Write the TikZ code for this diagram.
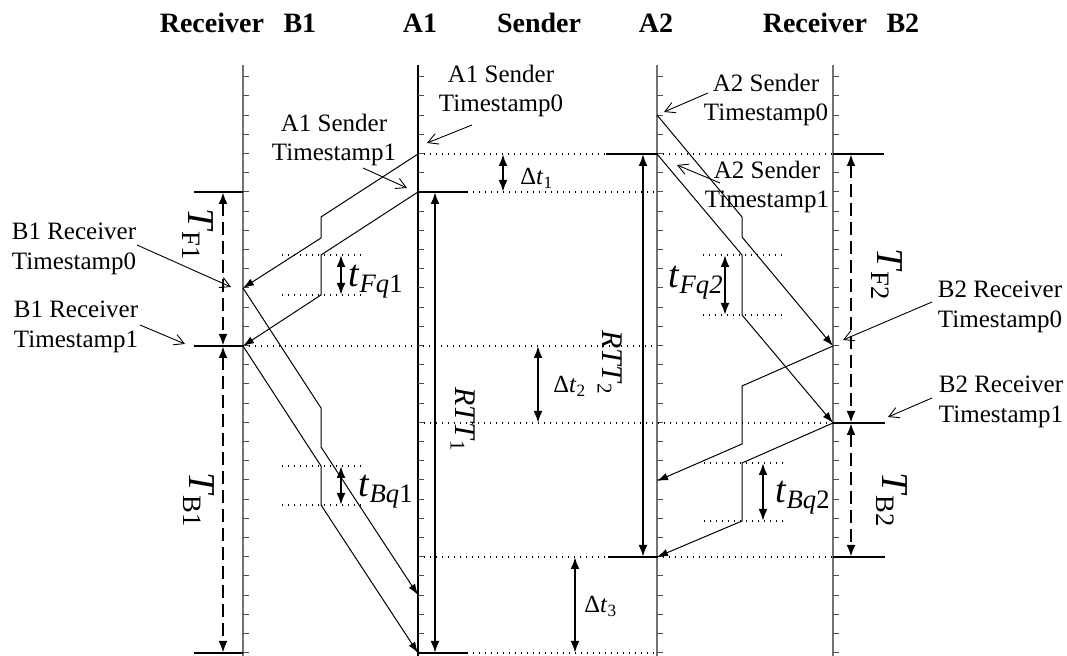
\documentclass[tikz,border=0pt]{standalone}
\usepackage{fontspec}
\setmainfont{Liberation Serif}
\usetikzlibrary{arrows.meta}
\definecolor{axgray}{gray}{0.45}
\definecolor{tickgray}{gray}{0.3}
\begin{document}
\begin{tikzpicture}[x=0.5pt,y=-0.5pt,
  axis/.style={line width=0.6pt},
  tickmark/.style={line width=0.5pt,draw=tickgray},
  msg/.style={line width=0.5pt,-{Latex[length=5.5pt,width=3.8pt]}},
  ptr/.style={line width=0.45pt,-{Straight Barb[length=5pt,width=5.5pt]}},
  dimarr/.style={line width=1.1pt,{Latex[length=6pt,width=4.5pt]}-{Latex[length=6pt,width=4.5pt]}},
  dasharr/.style={dimarr,line width=1.25pt,dash pattern=on 6.5pt off 3pt},
  dots/.style={line width=0.6pt,dash pattern=on 0.6pt off 2.4pt},
  hline/.style={line width=0.55pt},
  lbl/.style={font=\fontsize{12.5}{14.7}\selectfont,align=center,inner sep=0pt},
  head/.style={font=\fontsize{14}{16}\selectfont\bfseries,inner sep=0pt,anchor=base},
  big/.style={font=\fontsize{19}{22}\selectfont,inner sep=0pt},
  mid/.style={font=\fontsize{15}{18}\selectfont,inner sep=0pt},
  small/.style={font=\fontsize{12.3}{14.5}\selectfont,inner sep=0pt},
]
\useasboundingbox (0,0) rectangle (1067,656);

% axis x positions
\coordinate (xB1) at (243,0);
\coordinate (xA1) at (418,0);
\coordinate (xA2) at (657,0);
\coordinate (xB2) at (833,0);

% headings
\node[head] (hB1) at (238,33) {Receiver\hspace{0.7em}B1};
\node[head] (hA1) at (420,33) {A1};
\node[head] (hS)  at (539,33) {Sender};
\node[head] (hA2) at (656,33) {A2};
\node[head] (hB2) at (841,33) {Receiver\hspace{0.7em}B2};

% axes
\draw[axis,draw=axgray] (243,65) -- (243,656);
\draw[axis,draw=black]  (418,65) -- (418,656);
\draw[axis,draw=axgray] (657,65) -- (657,656);
\draw[axis,draw=axgray] (833,65) -- (833,656);
\foreach \xx in {243,418,657,833}{
  \foreach \k in {-6,...,24}{
    \draw[tickmark] (\xx,{192+19.2*\k}) -- ++(6,0);
  }
}

% event points
\coordinate (a1s0) at (418,154);
\coordinate (a1s1) at (418,192);
\coordinate (b1r0) at (243,288);
\coordinate (b1r1) at (243,346);
\coordinate (a1r0) at (418,595);
\coordinate (a1r1) at (418,653);
\coordinate (a2s0) at (657,115);
\coordinate (a2s1) at (657,154);
\coordinate (b2r0) at (833,346);
\coordinate (b2r1) at (833,423);
\coordinate (a2r0) at (657,481);
\coordinate (a2r1) at (657,557);

% horizontal reference lines
\draw[dots]  (a1s0) -- (606,154);
\draw[hline] (606,154) -- (a2s1);
\draw[dots]  (a2s1) -- (xB2 |- a2s1);
\draw[hline] (xB2 |- a2s1) -- ++(51,0);

\draw[hline] (xB1 |- a1s1) -- ++(-49,0);
\draw[hline] (a1s1) -- ++(49,0);
\draw[dots]  (467,192) -- (xA2 |- a1s1);

\draw[hline] (b1r1) -- ++(-49,0);
\draw[dots]  (b1r1) -- (xA2 |- b1r1);

\draw[dots]  (xA1 |- b2r1) -- (b2r1);
\draw[hline] (b2r1) -- ++(52,0);

\draw[dots]  (xA1 |- a2r1) -- (608,557);
\draw[hline] (608,557) -- (a2r1);
\draw[dots]  (a2r1) -- (xB2 |- a2r1);
\draw[hline] (xB2 |- a2r1) -- ++(52,0);

\draw[hline] (xB1 |- a1r1) -- ++(-49,0);
\draw[hline] (a1r1) -- ++(49,0);
\draw[dots]  (467,653) -- (xA2 |- a1r1);

% queue reference lines
\draw[dots] (282,255) -- (362,255);
\draw[dots] (282,295) -- (362,295);
\draw[dots] (282,466) -- (362,466);
\draw[dots] (282,505) -- (362,505);
\draw[dots] (703,255) -- (782,255);
\draw[dots] (703,315) -- (782,315);
\draw[dots] (704,463) -- (783,463);
\draw[dots] (704,521) -- (783,521);

% messages A1 <-> B1
\draw[msg] (a1s0) -- (321,217) -- (321,238) -- (b1r0);
\draw[msg] (a1s1) -- (321,255) -- (321,295) -- (b1r1);
\draw[msg] (b1r0) -- (321,408) -- (321,447) -- (a1r0);
\draw[msg] (b1r1) -- (321,466) -- (321,505) -- (a1r1);
% messages A2 <-> B2
\draw[msg] (a2s0) -- (742,217) -- (742,237) -- (b2r0);
\draw[msg] (a2s1) -- (742,255) -- (742,315) -- (b2r1);
\draw[msg] (b2r0) -- (742,386) -- (742,444) -- (a2r0);
\draw[msg] (b2r1) -- (742,463) -- (742,521) -- (a2r1);

% dimension arrows
\coordinate (xTF1) at (223,0);
\coordinate (xRTT1) at (435,0);
\coordinate (xRTT2) at (643,0);
\coordinate (xD1) at (503,0);
\coordinate (xD2) at (538,0);
\coordinate (xD3) at (575,0);
\coordinate (xTF2) at (851,0);
\draw[dasharr] (xTF1 |- a1s1) -- (xTF1 |- b1r1);
\draw[dasharr] (xTF1 |- b1r1) -- (xTF1 |- a1r1);
\draw[dimarr] (xRTT1 |- a1s1) -- (xRTT1 |- a1r1);
\draw[dimarr] (xRTT2 |- a2s1) -- (xRTT2 |- a2r1);
\draw[dimarr] (xD1 |- a1s0) -- (xD1 |- a1s1);
\draw[dimarr] (xD2 |- b1r1) -- (xD2 |- b2r1);
\draw[dimarr] (xD3 |- a2r1) -- (xD3 |- a1r1);
\draw[dasharr] (xTF2 |- a2s1) -- (xTF2 |- b2r1);
\draw[dasharr] (xTF2 |- b2r1) -- (xTF2 |- a2r1);
\draw[dimarr] (341,255) -- (341,295);
\draw[dimarr] (341,466) -- (341,505);
\draw[dimarr] (725,255) -- (725,315);
\draw[dimarr] (763,463) -- (763,521);

% math-like labels
\node[big,anchor=base west] (ltfq1) at (348,287) {\textit{t}\textsubscript{\textit{Fq}1}};
\node[big,anchor=base west] (ltbq1) at (358,497) {\textit{t}\textsubscript{\textit{Bq}1}};
\node[big,anchor=base west] (ltfq2) at (668,288) {\textit{t}\textsubscript{\textit{Fq2}}};
\node[big,anchor=base west] (ltbq2) at (775,503) {\textit{t}\textsubscript{\textit{Bq}2}};
\node[big,rotate=-90,anchor=base west] (lTF1) at (188,208) {\textit{T}\textsubscript{F1}};
\node[big,rotate=-90,anchor=base west] (lTB1) at (189,472) {\textit{T}\textsubscript{B1}};
\node[big,rotate=-90,anchor=base west] (lTF2) at (877,248) {\textit{T}\textsubscript{F2}};
\node[big,rotate=-90,anchor=base west] (lTB2) at (882,472) {\textit{T}\textsubscript{B2}};
\node[mid,rotate=-90,anchor=base west] (lRTT1) at (455,387) {\textit{RTT}\textsubscript{1}};
\node[mid,rotate=-90,anchor=base west] (lRTT2) at (602,330) {\textit{RTT}\textsubscript{2}};
\node[small,anchor=base west] (ld1) at (520,185) {Δ\textit{t}\textsubscript{1}};
\node[small,anchor=base west] (ld2) at (553,393) {Δ\textit{t}\textsubscript{2}};
\node[small,anchor=base west] (ld3) at (584,613) {Δ\textit{t}\textsubscript{3}};

% text labels
\node[lbl] (tA1S0) at (501,91)  {A1 Sender\\Timestamp0};
\node[lbl] (tA1S1) at (334,140) {A1 Sender\\Timestamp1};
\node[lbl] (tA2S0) at (766,100) {A2 Sender\\Timestamp0};
\node[lbl] (tA2S1) at (767,187) {A2 Sender\\Timestamp1};
\node[lbl] (tB1R0) at (74,249)  {B1 Receiver\\Timestamp0};
\node[lbl] (tB1R1) at (76,327)  {B1 Receiver\\Timestamp1};
\node[lbl] (tB2R0) at (1000,307) {B2 Receiver\\Timestamp0};
\node[lbl] (tB2R1) at (1001,402) {B2 Receiver\\Timestamp1};

% pointer arrows
\coordinate (pA1S0) at (472,125); \coordinate (qA1S0) at (427,143);
\coordinate (pA1S1) at (363,168); \coordinate (qA1S1) at (407,188);
\coordinate (pA2S0) at (708,93);  \coordinate (qA2S0) at (664,112);
\coordinate (pA2S1) at (720,183); \coordinate (qA2S1) at (677,165);
\coordinate (pB1R0) at (137,245); \coordinate (qB1R0) at (231,287);
\coordinate (pB1R1) at (140,325); \coordinate (qB1R1) at (185,344);
\coordinate (pB2R0) at (932,302); \coordinate (qB2R0) at (843,340);
\coordinate (pB2R1) at (932,398); \coordinate (qB2R1) at (888,417);
\draw[ptr] (pA1S0) -- (qA1S0);
\draw[ptr] (pA1S1) -- (qA1S1);
\draw[ptr] (pA2S0) -- (qA2S0);
\draw[ptr] (pA2S1) -- (qA2S1);
\draw[ptr] (pB1R0) -- (qB1R0);
\draw[ptr] (pB1R1) -- (qB1R1);
\draw[ptr] (pB2R0) -- (qB2R0);
\draw[ptr] (pB2R1) -- (qB2R1);
\end{tikzpicture}
\end{document}
